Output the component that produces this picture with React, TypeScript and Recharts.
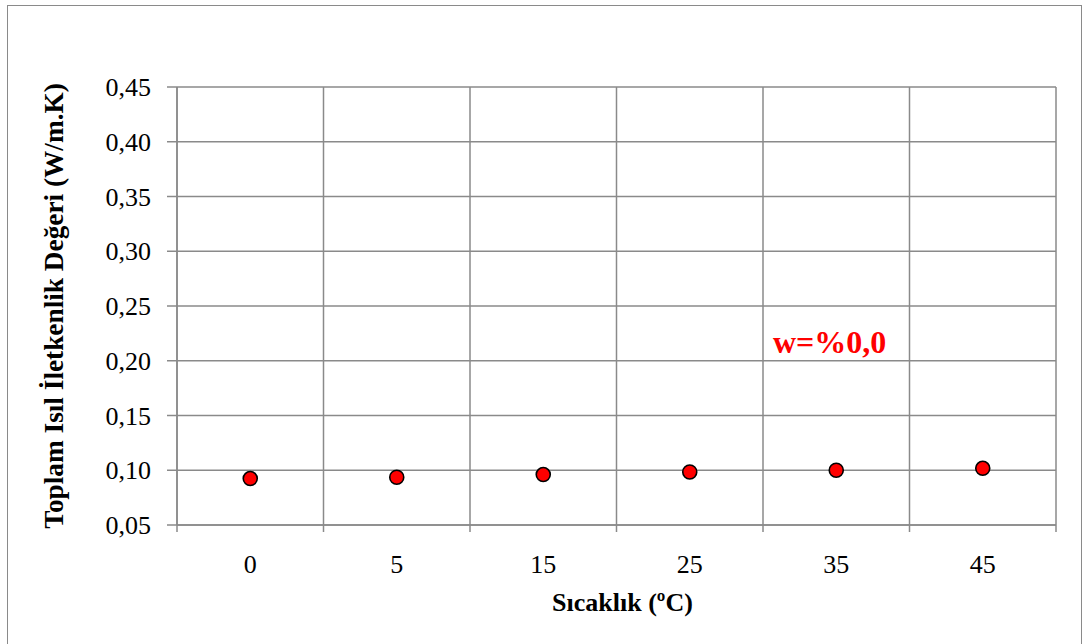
import { ScatterChart, Scatter, XAxis, YAxis, CartesianGrid, ReferenceLine } from 'recharts';

const temps = ['0', '5', '15', '25', '35', '45'];
const conductivity = [0.0924, 0.0936, 0.0961, 0.0984, 0.1, 0.1018];
const yTicks = [0.05, 0.1, 0.15, 0.2, 0.25, 0.3, 0.35, 0.4, 0.45];
const boundaryTicks = [0, 1, 2, 3, 4, 5, 6];
// boundaries carry the tick marks, half steps carry the category labels
const xTicks = [0, 0.5, 1, 1.5, 2, 2.5, 3, 3.5, 4, 4.5, 5, 5.5, 6];

const data = temps.map((t, i) => ({ pos: i + 0.5, temp: t, k: conductivity[i] }));

const FONT = "'Liberation Serif', 'Times New Roman', serif";
const GRID = '#8a8a8a';
const TICK = { fill: '#000', fontSize: 26, fontFamily: FONT };

const fmt = (v: number) => v.toFixed(2).replace('.', ',');

const RedDot = (props: any) => (
  <circle cx={props.cx} cy={props.cy} r={7} fill="#ff0000" stroke="#000" strokeWidth={1.6} />
);

const XTick = (props: any) => {
  const { x, y, payload } = props;
  const v = payload.value as number;
  if (Number.isInteger(v)) {
    return <line x1={x} x2={x} y1={y} y2={y + 7} stroke={GRID} strokeWidth={1.5} />;
  }
  return (
    <text x={x} y={y + 30} dy="0.71em" textAnchor="middle" {...TICK}>
      {temps[Math.floor(v)]}
    </text>
  );
};

export default function App() {
  return (
    <div style={{ position: 'absolute', left: 0, top: 0, width: 1085, height: 644, background: '#fff' }}>
      <div
        style={{
          position: 'absolute',
          left: 7,
          top: 5,
          width: 1075,
          height: 660,
          border: '1.5px solid #8a8a8a',
          boxSizing: 'border-box',
        }}
      />
      <ScatterChart
        width={1085}
        height={644}
        margin={{ top: 87, right: 29, left: 0, bottom: 29 }}
        style={{ position: 'absolute', left: 0, top: 0 }}
      >
        <CartesianGrid stroke={GRID} strokeWidth={1.5} vertical={false} />
        {boundaryTicks.map((b) => (
          <ReferenceLine key={b} x={b} stroke={GRID} strokeWidth={1.5} />
        ))}
        <XAxis
          type="number"
          dataKey="pos"
          domain={[0, 6]}
          ticks={xTicks}
          interval={0}
          height={90}
          stroke={GRID}
          strokeWidth={1.5}
          tickLine={false}
          tickSize={0}
          tickMargin={0}
          tick={XTick}
          label={{
            content: ({ viewBox }: any) => (
              <text
                x={viewBox.x + viewBox.width / 2 + 6}
                y={611}
                textAnchor="middle"
                fontFamily={FONT}
                fontWeight="bold"
                fontSize={26}
                fill="#000"
              >
                Sıcaklık (ºC)
              </text>
            ),
          }}
        />
        <YAxis
          type="number"
          dataKey="k"
          domain={[0.05, 0.45]}
          ticks={yTicks}
          width={177}
          stroke={GRID}
          strokeWidth={1.5}
          tickSize={10}
          tickMargin={16}
          tick={TICK}
          tickFormatter={fmt}
          allowDataOverflow
          label={{
            content: ({ viewBox }: any) => (
              <text
                x={63}
                y={viewBox.y + viewBox.height / 2}
                transform={`rotate(-90 63 ${viewBox.y + viewBox.height / 2})`}
                textAnchor="middle"
                fontFamily={FONT}
                fontWeight="bold"
                fontSize={27.3}
                fill="#000"
              >
                Toplam Isıl İletkenlik Değeri (W/m.K)
              </text>
            ),
          }}
        />
        <Scatter data={data} dataKey="k" shape={RedDot} isAnimationActive={false} />
      </ScatterChart>
      <svg width={1085} height={644} style={{ position: 'absolute', left: 0, top: 0, pointerEvents: 'none' }}>
        <text x={773} y={353} fontFamily={FONT} fontWeight="bold" fontSize={32} fill="#ff0000">
          w=%0,0
        </text>
      </svg>
    </div>
  );
}
